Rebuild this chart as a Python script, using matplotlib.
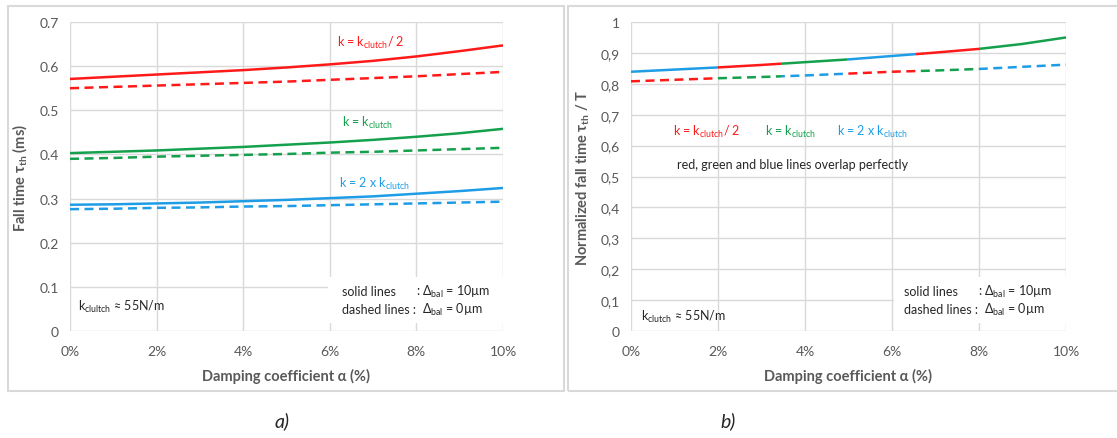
import numpy as np
import matplotlib
matplotlib.use("Agg")
import matplotlib.pyplot as plt
from matplotlib.patches import Rectangle
from matplotlib.ticker import FuncFormatter

plt.rcParams['font.family'] = ['Lato', 'DejaVu Sans']
plt.rcParams['mathtext.fontset'] = 'custom'
plt.rcParams['mathtext.rm'] = 'Lato'
plt.rcParams['mathtext.it'] = 'Lato:italic'
plt.rcParams['mathtext.bf'] = 'Lato:bold'

# === DATA ===
alpha_pct = [0, 1, 2, 3, 4, 5, 6, 7, 8, 9, 10]

# a) fall time (ms)
half_solid = [0.571, 0.576, 0.581, 0.586, 0.591, 0.597, 0.604, 0.612, 0.622, 0.634, 0.647]
half_dashed = [0.550, 0.553, 0.556, 0.559, 0.562, 0.565, 0.569, 0.573, 0.577, 0.582, 0.587]
one_solid = [0.403, 0.406, 0.409, 0.413, 0.417, 0.422, 0.427, 0.433, 0.440, 0.448, 0.458]
one_dashed = [0.390, 0.392, 0.395, 0.397, 0.399, 0.401, 0.404, 0.406, 0.409, 0.412, 0.415]
two_solid = [0.286, 0.287, 0.289, 0.291, 0.294, 0.297, 0.301, 0.305, 0.311, 0.317, 0.324]
two_dashed = [0.276, 0.277, 0.279, 0.280, 0.282, 0.283, 0.285, 0.287, 0.289, 0.291, 0.293]

# b) normalized fall time (identical for the three stiffnesses)
norm_solid = [0.839, 0.846, 0.853, 0.861, 0.870, 0.879, 0.890, 0.901, 0.913, 0.929, 0.950]
norm_dashed = [0.808, 0.813, 0.818, 0.822, 0.827, 0.833, 0.839, 0.843, 0.848, 0.855, 0.862]

# visible colour pieces of the overlapping series in b)
seg_edges = [0, 2, 3.45, 4.97, 6.55, 8, 10]
solid_seg_colors = ['blue', 'red', 'green', 'blue', 'red', 'green']
dashed_seg_colors = ['red', 'green', 'blue', 'red', 'green', 'blue']

C = {'red': '#ff1a1a', 'green': '#14a04c', 'blue': '#1e9de6'}
GRID = '#d9d9d9'
TXT = '#595959'
DARK = '#262626'
LW = 1.8
DASH = (3.6, 2.2)
FS = 9

W, H = 1117, 439
fig = plt.figure(figsize=(W / 100, H / 100), dpi=100)


def px_axes(x0, y0, x1, y1):
    return fig.add_axes([x0 / W, 1 - y1 / H, (x1 - x0) / W, (y1 - y0) / H])


# chart frames
fig.patches.append(Rectangle((8 / W, 1 - 392 / H), (564 - 8) / W, (392 - 7) / H,
                             transform=fig.transFigure, fill=False, edgecolor='#d9d9d9', lw=1.5))
fig.patches.append(Rectangle((568 / W, 1 - 392 / H), (1130 - 568) / W, (392 - 7) / H,
                             transform=fig.transFigure, fill=False, edgecolor='#d9d9d9', lw=1.5))

ax1 = px_axes(70, 23, 503, 332)
ax2 = px_axes(631, 23, 1066, 332)


def style(ax, ymax, ystep, fmt):
    ax.set_xlim(0, 10)
    ax.set_ylim(0, ymax)
    ax.set_xticks(np.arange(0, 10.01, 2))
    ax.set_yticks(np.arange(0, ymax + 1e-9, ystep))
    ax.xaxis.set_major_formatter(FuncFormatter(lambda v, p: f'{v:.0f}%'))
    ax.yaxis.set_major_formatter(FuncFormatter(fmt))
    ax.tick_params(length=0, labelsize=10, labelcolor=TXT)
    ax.tick_params(axis='x', pad=10)
    ax.tick_params(axis='y', pad=8)
    for s in ax.spines.values():
        s.set_visible(False)
    ax.grid(True, color=GRID, lw=1)
    ax.set_axisbelow(True)
    ax.set_xlabel('Damping coefficient α (%)', fontsize=10.5, fontweight='bold', color=TXT)
    ax.xaxis.set_label_coords(0.5, -0.12)


def fmt_dot(v, p):
    return '0' if abs(v) < 1e-9 else f'{v:.1f}'


def fmt_comma(v, p):
    if abs(v) < 1e-9:
        return '0'
    if abs(v - 1) < 1e-9:
        return '1'
    return f'{v:.1f}'.replace('.', ',')


style(ax1, 0.7, 0.1, fmt_dot)
style(ax2, 1.0, 0.1, fmt_comma)

ax1.set_ylabel(r'Fall time τ$_{\mathregular{th}}$ (ms)', fontsize=10.5, fontweight='bold', color=TXT)
ax1.yaxis.set_label_coords(-0.095, 0.5)
ax2.set_ylabel(r'Normalized fall time τ$_{\mathregular{th}}$ / T', fontsize=10.5, fontweight='bold', color=TXT)
ax2.yaxis.set_label_coords(-0.09, 0.5)

# --- a) ---
for solid, dashed, col in [(half_solid, half_dashed, 'red'),
                           (one_solid, one_dashed, 'green'),
                           (two_solid, two_dashed, 'blue')]:
    ax1.plot(alpha_pct, solid, color=C[col], lw=LW, solid_capstyle='butt')
    ax1.plot(alpha_pct, dashed, color=C[col], lw=LW, dashes=DASH)

ax1.text(6.17, 0.655, r'k = k$_{\mathregular{clutch}}$/ 2', color=C['red'], fontsize=FS, va='center')
ax1.text(6.28, 0.473, r'k = k$_{\mathregular{clutch}}$', color=C['green'], fontsize=FS, va='center')
ax1.text(6.21, 0.335, r'k = 2 x k$_{\mathregular{clutch}}$', color=C['blue'], fontsize=FS, va='center')
ax1.text(0.18, 0.057, r'k$_{\mathregular{clultch}}$ ≈ 55N/m', color=DARK, fontsize=FS, va='center')

# --- b) ---
for vals, colors, kw in [(norm_solid, solid_seg_colors, dict(solid_capstyle='butt')),
                         (norm_dashed, dashed_seg_colors, dict(dashes=DASH))]:
    for i, col in enumerate(colors):
        line, = ax2.plot(alpha_pct, vals, color=C[col], lw=LW, **kw)
        clip = Rectangle((seg_edges[i], -1), seg_edges[i + 1] - seg_edges[i], 3,
                         transform=ax2.transData)
        line.set_clip_path(clip)

ax2.text(0.97, 0.647, r'k = k$_{\mathregular{clutch}}$/ 2', color=C['red'], fontsize=FS, va='center')
ax2.text(3.08, 0.647, r'k = k$_{\mathregular{clutch}}$', color=C['green'], fontsize=FS, va='center')
ax2.text(4.74, 0.647, r'k = 2 x k$_{\mathregular{clutch}}$', color=C['blue'], fontsize=FS, va='center')
ax2.text(1.06, 0.540, 'red, green and blue lines overlap perfectly', color=DARK, fontsize=FS, va='center')
ax2.text(0.23, 0.049, r'k$_{\mathregular{clutch}}$ ≈ 55N/m', color=DARK, fontsize=FS, va='center')

# legend boxes (white background hides the grid, as in the reference)
for ax, x0, ytop, y1, y2 in [(ax1, 5.95, 0.7, 0.091, 0.050), (ax2, 6.05, 1.0, 0.129, 0.071)]:
    ax.add_patch(Rectangle((x0, y2 - 0.045 * ytop), 10 - x0, (y1 - y2) + 0.09 * ytop,
                           facecolor='white', edgecolor='none', zorder=1.5))
    ax.text(6.28, y1, 'solid lines', color=DARK, fontsize=FS, va='center', zorder=3)
    ax.text(7.98, y1, r': Δ$_{\mathregular{bal}}$ = 10µm', color=DARK, fontsize=FS, va='center', zorder=3)
    ax.text(6.28, y2, 'dashed lines :', color=DARK, fontsize=FS, va='center', zorder=3)
    ax.text(8.12, y2, r'Δ$_{\mathregular{bal}}$ = 0µm', color=DARK, fontsize=FS, va='center', zorder=3)

fig.text(282 / W, 1 - 421 / H, 'a)', fontsize=14, style='italic', color=DARK, ha='center', va='center')
fig.text(728 / W, 1 - 421 / H, 'b)', fontsize=14, style='italic', color=DARK, ha='center', va='center')

fig.savefig('out.png', dpi=100, facecolor='white')
